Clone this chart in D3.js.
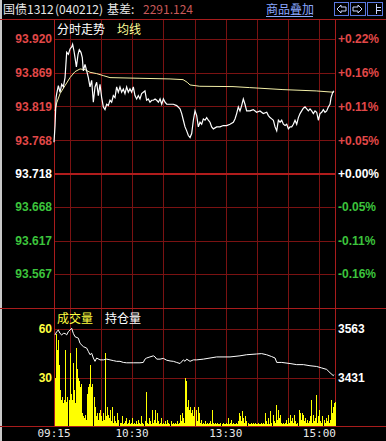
<!DOCTYPE html>
<html>
<head>
<meta charset="utf-8">
<script src="https://cdn.jsdelivr.net/npm/d3@7"></script>
<style>
  body { margin: 0; background: #000; }
  svg { display: block; }
</style>
</head>
<body>
<div id="chart"></div>
<script>
var svgWidth = 386;
var svgHeight = 441;

// axis values
var basePrice = 93.718;
var priceTicks = [93.920, 93.869, 93.819, 93.768, 93.718, 93.668, 93.617, 93.567];
var pctTicks = ["+0.22%", "+0.16%", "+0.11%", "+0.05%", "+0.00%", "-0.05%", "-0.11%", "-0.16%"];
var volTicks = [60, 30];
var oiTicks = [3563, 3431];
var gridMinutes = [15, 45, 75, 105, 135, 165, 195, 225, 255];
var timeLabels = ["09:15", "10:30", "13:30", "15:00"];
var timeLabelMinutes = [0, 75, 165, 255];

// [trading minute, price]
var pricePoints = [
  [0, 93.765], [1, 93.790], [2, 93.832], [2.6, 93.838], [4.2, 93.850], [5.8, 93.840],
  [7.4, 93.852], [9, 93.848], [10.6, 93.862], [12.2, 93.900], [13.8, 93.897], [15.4, 93.905],
  [17, 93.908], [17.9, 93.912], [19.2, 93.902], [20.2, 93.892], [21.5, 93.878], [23.1, 93.897],
  [24.3, 93.904], [25.9, 93.900], [27.2, 93.892], [28.2, 93.872], [29.8, 93.882], [31.4, 93.872],
  [33, 93.862], [34.6, 93.848], [36.2, 93.858], [37.8, 93.825], [39.4, 93.848], [41, 93.855],
  [42.6, 93.835], [44.2, 93.852], [45.8, 93.832], [47.4, 93.818], [49, 93.814], [50.6, 93.822],
  [52.2, 93.820], [53.8, 93.828], [55.4, 93.825], [57, 93.835], [58.6, 93.832], [60.2, 93.848],
  [61.8, 93.840], [63.4, 93.848], [65, 93.840], [66.6, 93.845], [68.2, 93.838], [69.8, 93.848],
  [71.4, 93.840], [73, 93.845], [74.6, 93.840], [76.2, 93.848], [77.8, 93.835], [79.4, 93.830],
  [81, 93.835], [82.6, 93.830], [84.2, 93.838], [85.8, 93.840], [87.4, 93.842], [89, 93.828],
  [90.6, 93.830], [92.2, 93.825], [93.9, 93.828], [95.5, 93.828], [97.1, 93.830], [98.7, 93.828],
  [100.3, 93.825], [101.9, 93.830], [103.5, 93.822], [105.1, 93.830], [106.7, 93.825], [108.3, 93.822],
  [111.5, 93.822], [114.7, 93.822], [117.9, 93.820], [121.1, 93.815], [122.7, 93.808], [124.3, 93.798],
  [125.9, 93.788], [127.5, 93.782], [129.1, 93.775], [130.7, 93.772], [132.3, 93.778], [133.9, 93.798],
  [135.5, 93.812], [137.1, 93.805], [138.7, 93.788], [140.3, 93.795], [141.9, 93.792], [143.5, 93.800],
  [145.1, 93.798], [146.7, 93.802], [148.3, 93.798], [149.9, 93.795], [151.5, 93.788], [153.1, 93.785],
  [156.3, 93.788], [159.5, 93.788], [162.7, 93.790], [165.9, 93.790], [169.1, 93.792], [172.3, 93.795],
  [173.9, 93.800], [175.5, 93.808], [177.1, 93.818], [178.7, 93.812], [180.3, 93.820], [181.9, 93.830],
  [183.5, 93.822], [185.1, 93.812], [188.3, 93.812], [191.5, 93.814], [194.7, 93.810], [197.9, 93.812],
  [201.1, 93.808], [204.4, 93.810], [206, 93.805], [207.6, 93.802], [209.2, 93.800], [210.8, 93.798],
  [212.4, 93.788], [214, 93.782], [215.6, 93.798], [217.2, 93.795], [218.8, 93.798], [220.4, 93.792],
  [222, 93.790], [223.6, 93.792], [225.2, 93.785], [226.8, 93.788], [228.4, 93.788], [230, 93.792],
  [231.6, 93.798], [233.2, 93.792], [234.8, 93.802], [236.4, 93.808], [238, 93.812], [239.6, 93.816],
  [241.2, 93.818], [242.8, 93.815], [244.4, 93.812], [246, 93.815], [247.6, 93.812], [249.2, 93.808],
  [250.8, 93.812], [252.4, 93.810], [254, 93.798], [255.6, 93.808], [257.2, 93.810], [258.8, 93.814],
  [260.4, 93.810], [262, 93.812], [263.6, 93.818], [265.2, 93.822], [266.2, 93.832], [267.8, 93.840],
  [269, 93.842]
];

var avgPoints = [
  [1, 93.812], [2.6, 93.824], [5.8, 93.838], [10.6, 93.850], [15.4, 93.862], [20.2, 93.871],
  [25, 93.875], [29.8, 93.874], [34.6, 93.870], [41, 93.868], [47.4, 93.865], [53.8, 93.862],
  [82.6, 93.861], [111.5, 93.860], [124, 93.859], [128, 93.855], [130.7, 93.851], [140, 93.849],
  [172, 93.8485], [188, 93.847], [220, 93.844], [252, 93.842], [269, 93.840]
];

// one bar per trading minute
var volumes = [
  30, 57, 47, 53, 38, 22, 16, 18, 14, 16,
  47, 15, 18, 16, 45, 20, 16, 39, 22, 14,
  48, 35, 30, 28, 24, 26, 8, 6, 5, 7,
  4, 20, 24, 26, 38, 24, 26, 18, 12, 6,
  8, 4, 8, 10, 6, 3, 8, 4, 45, 6,
  12, 7, 5, 10, 3, 12, 2, 6, 3, 2,
  8, 4, 2, 2, 6, 1, 2, 3, 5, 1,
  2, 4, 1, 2, 5, 1, 2, 1, 3, 1,
  4, 2, 1, 6, 2, 1, 3, 21, 2, 1,
  5, 3, 1, 10, 2, 4, 10, 2, 8, 3,
  1, 2, 5, 1, 2, 1, 3, 1, 4, 2,
  1, 3, 1, 2, 1, 2, 1, 3, 1, 2,
  7, 3, 8, 5, 2, 30, 28, 12, 16, 10,
  12, 8, 10, 6, 12, 10, 3, 12, 8, 2,
  4, 1, 2, 1, 3, 1, 2, 1, 2, 3,
  1, 10, 2, 1, 2, 1, 2, 1, 1, 2,
  1, 2, 1, 1, 2, 1, 5, 1, 2, 4,
  1, 2, 1, 1, 2, 1, 3, 8, 6, 3,
  9, 5, 2, 6, 3, 2, 1, 1, 2, 1,
  2, 1, 2, 1, 1, 2, 1, 1, 2, 1,
  2, 1, 8, 3, 1, 5, 1, 9, 2, 7,
  3, 2, 13, 4, 10, 5, 7, 2, 1, 2,
  1, 2, 4, 1, 5, 2, 7, 3, 5, 2,
  7, 3, 1, 2, 10, 8, 4, 8, 7, 3,
  5, 2, 4, 2, 3, 6, 16, 2, 7, 3,
  5, 19, 2, 6, 10, 3, 2, 6, 4, 2,
  5, 3, 7, 2, 4, 16, 8, 12, 14, 15
];

// [trading minute, open interest]
var oiPoints = [
  [1, 3547], [2.6, 3556], [4.2, 3560], [5.8, 3551], [7.4, 3547], [9, 3551], [10.6, 3551],
  [12.2, 3547], [13.8, 3556], [15.4, 3560], [17, 3565], [18.6, 3551], [20.2, 3542], [23.4, 3538],
  [25, 3524], [28.2, 3515], [31.4, 3511], [33, 3502], [34.6, 3493], [36.2, 3497], [37.8, 3484],
  [39.4, 3475], [41, 3484], [44.2, 3479], [47.4, 3479], [50.6, 3481], [53.8, 3479], [57, 3477],
  [60.2, 3475], [63.4, 3475], [66.6, 3472], [69.8, 3471], [76.2, 3471], [82.6, 3471], [85.8, 3472],
  [87.4, 3481], [89, 3484], [92.2, 3487], [95.5, 3490], [97.1, 3487], [98.7, 3481], [101.9, 3481],
  [105.1, 3483], [108.3, 3478], [111.5, 3476], [114.7, 3475], [117.9, 3472], [121.1, 3469],
  [124.3, 3479], [125.9, 3475], [127.5, 3481], [130.7, 3475], [133.9, 3479], [137.1, 3479],
  [143.5, 3481], [149.9, 3484], [156.3, 3487], [169.1, 3487], [178.7, 3490], [185.1, 3493],
  [194.7, 3495], [199.5, 3496], [204.3, 3493], [209.1, 3488], [212.4, 3484], [214, 3472],
  [218.8, 3472], [226.8, 3469], [233.2, 3466], [239.6, 3466], [246, 3463], [252.4, 3461],
  [257.2, 3457], [262, 3453], [265.2, 3444], [268.4, 3436], [269, 3439]
];

var plotLeft = 54, plotRight = 335;
var topLine = 19, midLine = 308, bottomLine = 426;

var svg = d3.select("#chart")
  .append("svg")
  .attr("width", svgWidth)
  .attr("height", svgHeight)
  .style("background", "#000");

var xScale = d3.scaleLinear().domain([0, 270]).range([plotLeft, plotRight]);
var yPrice = d3.scaleLinear().domain([93.516, 93.920]).range([midLine, 39]);
var yVol = d3.scaleLinear().domain([0, 60]).range([bottomLine, 329]);
var yOi = d3.scaleLinear().domain([3299, 3563]).range([bottomLine, 329]);

var gridColor = "#7a1212";
var borderColor = "#a81c1c";
var cjk = "'Noto Sans CJK SC', 'Noto Sans', sans-serif";
var numFont = "'Liberation Sans', Arial, sans-serif";

// left light strip
svg.append("rect")
  .attr("x", 0).attr("y", 0)
  .attr("width", 2).attr("height", svgHeight)
  .attr("fill", "#c8c8c8");

// grid
var grid = svg.append("g").attr("shape-rendering", "crispEdges");

grid.selectAll(".vgrid")
  .data(gridMinutes)
  .enter()
  .append("line")
  .attr("x1", d => Math.round(xScale(d)) + 0.5)
  .attr("x2", d => Math.round(xScale(d)) + 0.5)
  .attr("y1", topLine)
  .attr("y2", bottomLine)
  .attr("stroke", gridColor);

grid.selectAll(".hgrid")
  .data(priceTicks.filter(d => d != basePrice))
  .enter()
  .append("line")
  .attr("x1", plotLeft)
  .attr("x2", plotRight)
  .attr("y1", d => Math.round(yPrice(d)) + 0.5)
  .attr("y2", d => Math.round(yPrice(d)) + 0.5)
  .attr("stroke", gridColor);

grid.selectAll(".vgridv")
  .data(volTicks)
  .enter()
  .append("line")
  .attr("x1", plotLeft)
  .attr("x2", plotRight)
  .attr("y1", d => Math.round(yVol(d)) + 0.5)
  .attr("y2", d => Math.round(yVol(d)) + 0.5)
  .attr("stroke", gridColor);

// base price line
grid.append("line")
  .attr("x1", plotLeft).attr("x2", plotRight)
  .attr("y1", Math.round(yPrice(basePrice)))
  .attr("y2", Math.round(yPrice(basePrice)))
  .attr("stroke", "#b01c1c")
  .attr("stroke-width", 2);

// borders
[topLine, midLine, bottomLine].forEach(function (y) {
  grid.append("line")
    .attr("x1", 0).attr("x2", svgWidth)
    .attr("y1", y + 0.5).attr("y2", y + 0.5)
    .attr("stroke", borderColor);
});
[plotLeft, plotRight].forEach(function (x) {
  grid.append("line")
    .attr("x1", x + 0.5).attr("x2", x + 0.5)
    .attr("y1", topLine).attr("y2", bottomLine)
    .attr("stroke", borderColor);
});

// volume bars
svg.append("g")
  .attr("shape-rendering", "crispEdges")
  .selectAll("rect")
  .data(volumes)
  .enter()
  .append("rect")
  .attr("x", (d, i) => Math.round(xScale(i)) + 1)
  .attr("width", 1)
  .attr("y", d => yVol(d))
  .attr("height", d => yVol(0) - yVol(d))
  .attr("fill", "#ffff00");

// open interest
svg.append("path")
  .datum(oiPoints)
  .attr("d", d3.line().x(d => xScale(d[0])).y(d => yOi(d[1])))
  .attr("fill", "none")
  .attr("stroke", "#ffffff")
  .attr("stroke-width", 1);

// average + price lines
svg.append("path")
  .datum(avgPoints)
  .attr("d", d3.line().x(d => xScale(d[0])).y(d => yPrice(d[1])))
  .attr("fill", "none")
  .attr("stroke", "#f4f0a8")
  .attr("stroke-width", 1);

svg.append("path")
  .datum(pricePoints)
  .attr("d", d3.line().x(d => xScale(d[0])).y(d => yPrice(d[1])))
  .attr("fill", "none")
  .attr("stroke", "#ffffff")
  .attr("stroke-width", 1.2);

// price axis labels
function priceColor(d) {
  if (d > basePrice) return "#e04848";
  if (d < basePrice) return "#3cc43c";
  return "#ffffff";
}

var leftAxis = d3.axisLeft(yPrice)
  .tickValues(priceTicks)
  .tickFormat(d3.format(".3f"))
  .tickSize(0)
  .tickPadding(2);

var leftG = svg.append("g")
  .attr("transform", `translate(${plotLeft}, 0)`)
  .call(leftAxis);
leftG.select(".domain").remove();
leftG.selectAll("text")
  .style("font", `bold 12px ${numFont}`)
  .attr("fill", d => priceColor(d));

var rightAxis = d3.axisRight(yPrice)
  .tickValues(priceTicks)
  .tickFormat((d, i) => pctTicks[i])
  .tickSize(0)
  .tickPadding(3);

var rightG = svg.append("g")
  .attr("transform", `translate(${plotRight}, 0)`)
  .call(rightAxis);
rightG.select(".domain").remove();
rightG.selectAll("text")
  .style("font", `bold 12px ${numFont}`)
  .attr("fill", d => priceColor(d));

// volume / open interest labels
var volAxis = svg.append("g")
  .attr("transform", `translate(${plotLeft}, 0)`)
  .call(d3.axisLeft(yVol).tickValues(volTicks).tickSize(0).tickPadding(2));
volAxis.select(".domain").remove();
volAxis.selectAll("text")
  .style("font", `bold 12px ${numFont}`)
  .attr("fill", "#ffff40");

var oiAxis = svg.append("g")
  .attr("transform", `translate(${plotRight}, 0)`)
  .call(d3.axisRight(yOi).tickValues(oiTicks).tickFormat(d3.format("d")).tickSize(0).tickPadding(3));
oiAxis.select(".domain").remove();
oiAxis.selectAll("text")
  .style("font", `bold 12px ${numFont}`)
  .attr("fill", "#ffffff");

// time axis
svg.selectAll(".time")
  .data(timeLabels)
  .enter()
  .append("text")
  .attr("x", (d, i) => xScale(timeLabelMinutes[i]))
  .attr("y", 437)
  .attr("text-anchor", "middle")
  .style("font", "11px 'DejaVu Sans Mono', monospace")
  .attr("fill", "#e8e8e8")
  .text(d => d);

// panel titles
svg.append("text").attr("x", 57).attr("y", 34)
  .style("font", `12px ${cjk}`).attr("fill", "#ffffff").text("分时走势");
svg.append("text").attr("x", 117).attr("y", 34)
  .style("font", `12px ${cjk}`).attr("fill", "#ffff99").text("均线");
svg.append("text").attr("x", 57).attr("y", 323)
  .style("font", `12px ${cjk}`).attr("fill", "#ffff40").text("成交量");
svg.append("text").attr("x", 105).attr("y", 323)
  .style("font", `12px ${cjk}`).attr("fill", "#ffffff").text("持仓量");

// header
var header = svg.append("g").style("font", `12px ${cjk}`);
header.append("text").attr("x", 3).attr("y", 14).attr("fill", "#e8e8e8").text("国债1312");
header.append("text").attr("x", 55).attr("y", 14).attr("fill", "#e8e8e8").text("(040212)");
header.append("text").attr("x", 107).attr("y", 14).attr("fill", "#e8e8e8").text("基差:");
header.append("text").attr("x", 143).attr("y", 14).attr("fill", "#c85858").text("2291.124");
header.append("text").attr("x", 266).attr("y", 14).attr("fill", "#8aa8ff").text("商品叠加");
header.append("line")
  .attr("x1", 266).attr("x2", 313).attr("y1", 16.5).attr("y2", 16.5)
  .attr("stroke", "#8aa8ff");

// nav buttons
var btns = [[334, 15], [350, 16], [367, 16]];
var btnG = svg.append("g").attr("shape-rendering", "crispEdges");
btns.forEach(function (b) {
  btnG.append("rect")
    .attr("x", b[0] + 0.5).attr("y", 2.5)
    .attr("width", b[1] - 1).attr("height", 13)
    .attr("fill", "none").attr("stroke", "#5a78e0");
});
svg.append("path")
  .attr("d", "M337,9 L341,5 L341,7 L346,7 L346,11 L341,11 L341,13 Z")
  .attr("fill", "none").attr("stroke", "#c8d4ff");
svg.append("path")
  .attr("d", "M362,9 L358,5 L358,7 L353,7 L353,11 L358,11 L358,13 Z")
  .attr("fill", "none").attr("stroke", "#c8d4ff");
svg.append("path")
  .attr("d", "M376.5,4 L376.5,14 M377,7.5 L381,7.5 M377,10.5 L381,10.5")
  .attr("fill", "none").attr("stroke", "#c8d4ff");
</script>
</body>
</html>
